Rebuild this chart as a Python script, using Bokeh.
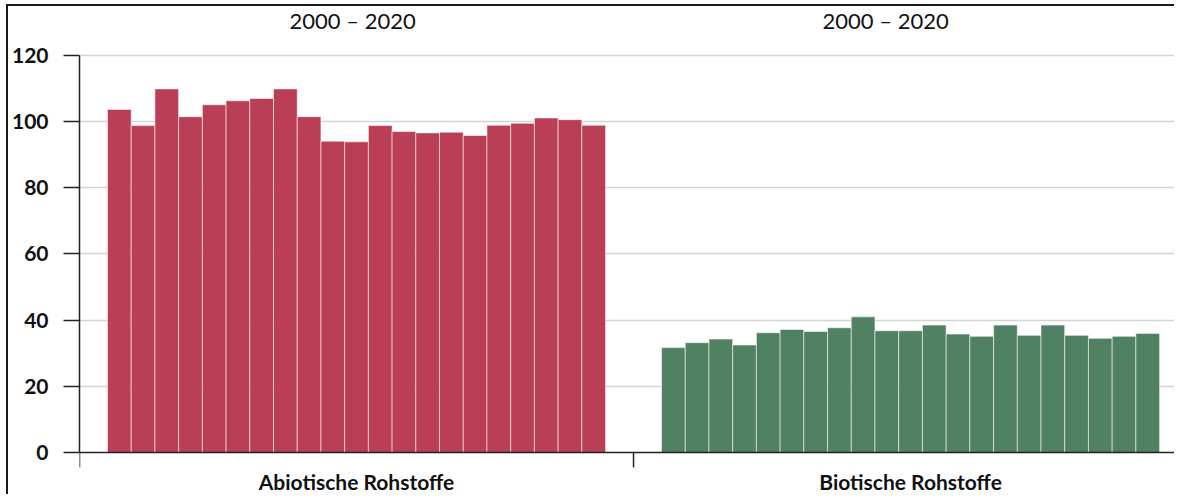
from bokeh.plotting import figure
from bokeh.models import Range1d, FixedTicker, ColumnDataSource, Span
from bokeh.core.properties import value
from bokeh.embed import file_html
from bokeh.resources import INLINE

categories = ["Abiotische Rohstoffe", "Biotische Rohstoffe"]
years = list(range(2000, 2021))
abiotic = [103.7, 98.8, 109.9, 101.5, 105.1, 106.3, 107.0, 109.9, 101.5, 94.1, 93.9,
           98.8, 97.0, 96.6, 96.8, 95.8, 98.9, 99.5, 101.1, 100.6, 98.9]
biotic = [31.7, 33.2, 34.3, 32.5, 36.2, 37.2, 36.6, 37.7, 41.0, 36.8, 36.8,
          38.5, 35.8, 35.1, 38.5, 35.4, 38.5, 35.4, 34.5, 35.1, 36.0]
period_label = "2000 \u2013 2020"
y_ticks = [0, 20, 40, 60, 80, 100, 120]

RED = "#B93E56"
GREEN = "#518163"
FONT = "Lato"
DARK = "#222222"

p = figure(width=1168, height=490, output_backend="svg", toolbar_location=None,
           x_range=Range1d(0, 1.980), y_range=Range1d(-13.3, 134.8),
           min_border_left=71, min_border_right=0, min_border_top=0, min_border_bottom=0)
p.styles = {"margin-left": "6px", "margin-top": "4px",
            "border-top": "2px solid #1a1a1a", "border-left": "2px solid #1a1a1a"}
p.outline_line_color = None
p.background_fill_color = "white"
p.border_fill_color = "white"

n = len(years)
pad = 0.0505
bw = (1 - 2 * pad) / n
for gi, (vals, col) in enumerate([(abiotic, RED), (biotic, GREEN)]):
    xs = [gi + pad + (i + 0.5) * bw for i in range(n)]
    src = ColumnDataSource(dict(x=xs, top=vals, year=years))
    p.vbar(x="x", top="top", bottom=0, width=bw, source=src, fill_color=col,
           line_color="white", line_alpha=0.55, line_width=1)

# x axis line at zero and category boundary ticks
p.add_layout(Span(location=0, dimension="width", line_color=DARK, line_width=1.5))
p.segment(x0=[0, 1, 2], y0=[0, 0, 0], x1=[0, 1, 2], y1=[-4.5, -4.5, -4.5],
          line_color=DARK, line_width=1.5)

# category labels
p.text(x=[0.5, 1.5], y=[-8.9, -8.9], text=categories,
       text_font=value(FONT), text_font_size="21px", text_font_style="bold",
       text_color="#111111", text_align="center", text_baseline="middle")

# period titles
p.text(x=[0.493, 1.455], y=[130.6, 130.6], text=[period_label, period_label],
       text_font=value(FONT), text_font_size="22px", text_color="#111111",
       text_align="center", text_baseline="middle")

# y axis
p.yaxis.ticker = FixedTicker(ticks=y_ticks)
p.yaxis.bounds = (0, 120)
p.yaxis.axis_line_color = DARK
p.yaxis.axis_line_width = 1.5
p.yaxis.major_tick_out = 16
p.yaxis.major_tick_in = 0
p.yaxis.major_tick_line_color = DARK
p.yaxis.major_tick_line_width = 1.5
p.yaxis.minor_tick_line_color = None
p.yaxis.major_label_standoff = 15
p.yaxis.major_label_text_font = FONT
p.yaxis.major_label_text_font_size = "21px"
p.yaxis.major_label_text_font_style = "bold"
p.yaxis.major_label_text_color = "#111111"

p.xaxis.visible = False
p.xgrid.visible = False
p.ygrid.ticker = FixedTicker(ticks=y_ticks[1:])
p.ygrid.grid_line_color = "#d4d4d4"
p.ygrid.grid_line_width = 1.5

open("out.html", "w").write(file_html(p, INLINE))
